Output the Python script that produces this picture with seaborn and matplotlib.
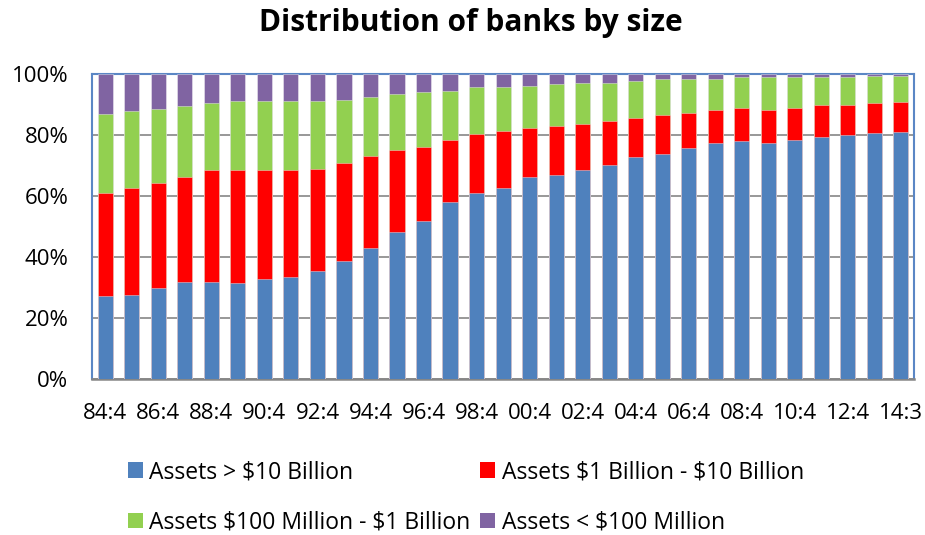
import matplotlib
matplotlib.use("Agg")
import matplotlib.pyplot as plt
import seaborn as sns
import numpy as np
import pandas as pd
from matplotlib.patches import Patch

# Quarter labels (yy:q), one bar per year-end quarter
periods = [f"{y % 100:02d}:4" for y in range(1984, 2014)] + ["14:3"]

# Share of banking assets (%) by bank size class
assets_over_10b = [27.3, 27.8, 29.8, 32.0, 32.0, 31.6, 33.0, 33.7, 35.6, 38.8,
                   42.9, 48.2, 51.9, 58.0, 61.1, 62.8, 66.4, 66.9, 68.6, 70.2,
                   72.8, 73.7, 75.9, 77.4, 78.1, 77.4, 78.4, 79.5, 80.0, 80.7, 81.1]
assets_1b_10b = [33.8, 35.0, 34.5, 34.4, 36.5, 36.9, 35.5, 34.8, 33.4, 32.2,
                 30.3, 27.0, 24.3, 20.4, 19.4, 18.6, 16.0, 16.2, 14.9, 14.4,
                 12.9, 13.0, 11.4, 10.9, 10.7, 10.9, 10.4, 10.5, 10.0, 9.7, 9.8]
assets_100m_1b = [25.7, 25.1, 24.1, 23.0, 22.1, 22.5, 22.5, 22.5, 22.0, 20.5,
                  19.3, 18.4, 17.9, 16.1, 15.1, 14.2, 13.8, 13.6, 13.7, 12.6,
                  12.1, 11.7, 11.1, 10.1, 10.1, 10.6, 10.1, 8.9, 8.9, 9.0, 8.5]
assets_under_100m = [13.2, 12.1, 11.6, 10.6, 9.4, 9.0, 9.0, 9.0, 9.0, 8.5,
                     7.5, 6.4, 5.9, 5.5, 4.4, 4.4, 3.8, 3.3, 2.8, 2.8,
                     2.2, 1.6, 1.6, 1.6, 1.1, 1.1, 1.1, 1.1, 1.1, 0.6, 0.6]

series_names = ["Assets > $10 Billion", "Assets $1 Billion - $10 Billion",
                "Assets $100 Million - $1 Billion", "Assets < $100 Million"]
series_values = [assets_over_10b, assets_1b_10b, assets_100m_1b, assets_under_100m]
colors = ["#4F81BD", "#FF0000", "#92D050", "#8064A2"]

sns.set_style("white")
plt.rcParams["font.family"] = ["Open Sans", "DejaVu Sans"]
plt.rcParams["text.parse_math"] = False
plt.rcParams["text.color"] = "black"

fig = plt.figure(figsize=(9.25, 5.35), dpi=100)
ax = fig.add_axes([0.0995, 0.2907, 0.8887, 0.571])

# Stacked bars: draw cumulative totals from the top layer down
cum = np.cumsum(np.array(series_values), axis=0)
for i in range(len(series_names) - 1, -1, -1):
    df = pd.DataFrame({"period": periods, "value": cum[i]})
    sns.barplot(data=df, x="period", y="value", color=colors[i], width=0.57,
                saturation=1, edgecolor=(1, 1, 1, 0.45), linewidth=0.6,
                ax=ax, zorder=3)

ax.set_xlim(-0.5, len(periods) - 0.5)
ax.set_ylim(0, 100)
ax.set_yticks([0, 20, 40, 60, 80, 100])
ax.set_yticklabels([f"{t}%" for t in [0, 20, 40, 60, 80, 100]])
ax.set_xticks(range(0, len(periods), 2))
ax.set_xticklabels(periods[::2])
ax.tick_params(axis="both", length=0, labelsize=16, colors="black")
ax.tick_params(axis="x", pad=17)
ax.tick_params(axis="y", pad=17)
ax.set_xlabel("")
ax.set_ylabel("")

ax.grid(axis="y", color="#868686", linewidth=1.2, zorder=0)
ax.grid(axis="x", visible=False)
for side in ["left", "top", "right"]:
    ax.spines[side].set_color("#5B87C5")
    ax.spines[side].set_linewidth(1.5)
ax.spines["bottom"].set_color("#868686")
ax.spines["bottom"].set_linewidth(1.8)

fig.suptitle("Distribution of banks by size", fontsize=21.5, fontweight="bold",
             x=0.509, y=0.957, va="center", color="black")

# Legend arranged row-wise: blue, red / green, purple
order = [0, 2, 1, 3]
handles = [Patch(facecolor=colors[i], edgecolor="none", label=series_names[i]) for i in order]
fig.legend(handles=handles, loc="upper left", bbox_to_anchor=(0.138, 0.14),
           ncol=2, frameon=False, fontsize=16.5, handlelength=0.65, handleheight=0.65,
           handletextpad=0.3, columnspacing=0.4, labelspacing=1.15, borderpad=0,
           borderaxespad=0, labelcolor="black")

fig.savefig("out.png", dpi=100)
